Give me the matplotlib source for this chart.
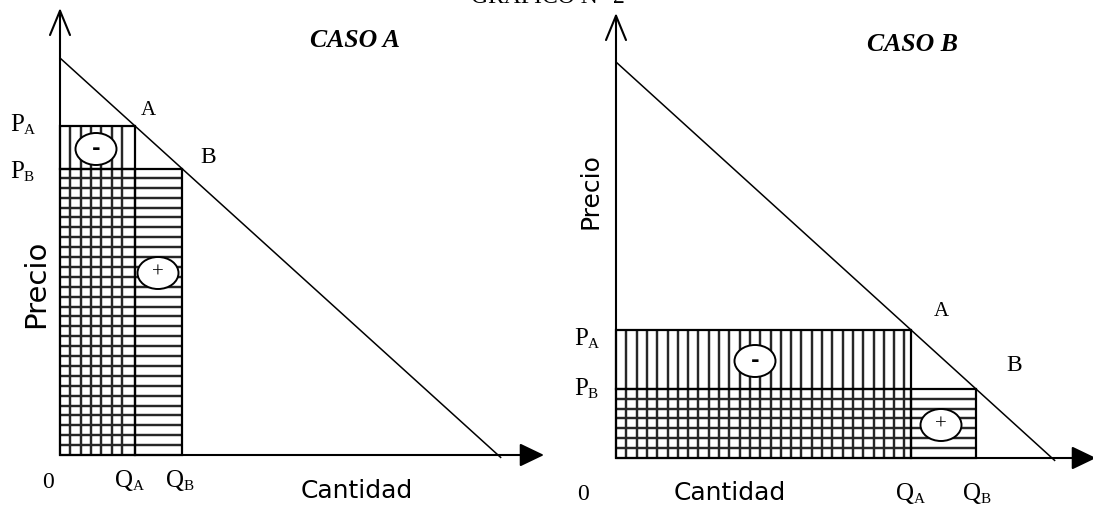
import numpy as np
import matplotlib
matplotlib.use("Agg")
import matplotlib.pyplot as plt
from matplotlib.patches import Rectangle, Ellipse

# ---------------- data ----------------
demand_intercept = 10.0          # P = a - Q
cases = ["CASO A", "CASO B"]
qa_values = [1.71, 6.77]         # quantity at point A
qb_values = [2.79, 8.26]         # quantity at point B
pa_values = [demand_intercept - q for q in qa_values]
pb_values = [demand_intercept - q for q in qb_values]
sign_neg = "-"
sign_pos = "+"

# ---------------- layout ----------------
W, H = 1093, 507
fig = plt.figure(figsize=(W / 100, H / 100), dpi=100)
fig.patch.set_facecolor("white")

SERIF = ["Liberation Serif", "DejaVu Serif"]
SANS = ["DejaVu Sans"]

# panel: (left px, right px, origin px x, origin px y, px per Q unit, px per P unit)
panels = [
    (0, 546, 60, 455, 43.8, 39.7),
    (546, 1093, 616, 458, 43.6, 39.6),
]


def make_ax(x0, x1, ox, oy, sx, sy):
    ax = fig.add_axes([x0 / W, 0, (x1 - x0) / W, 1])
    ax.set_xlim((x0 - ox) / sx, (x1 - ox) / sx)
    ax.set_ylim((oy - H) / sy, oy / sy)
    ax.axis("off")
    return ax


def px(ax, x, y):
    """pixel position (from top-left) -> data coords of ax"""
    inv = ax.transData.inverted()
    return inv.transform((x, H - y))


def hatch(ax, x0, x1, y0, y1, dx, dy, vertical, horizontal):
    kw = dict(color="#262626", lw=1.75, zorder=2, capstyle="butt")
    if vertical:
        xs = np.arange(dx, x1 - dx * 0.3, dx)
        xs = xs[xs > x0 + dx * 0.3]
        ax.vlines(xs, y0, y1, **kw)
    if horizontal:
        ys = np.arange(dy, y1 - dy * 0.3, dy)
        ys = ys[ys > y0 + dy * 0.3]
        ax.hlines(ys, x0, x1, **kw)


def sub_label(ax, x, y, main, sub, size=18, subsize=11):
    t = ax.text(x, y, main, fontsize=size, family=SERIF, ha="left", va="baseline", zorder=5)
    ax.annotate(sub, xy=(1, 0), xycoords=t, xytext=(0, -0.5), textcoords="offset points",
                fontsize=subsize, family=SERIF, ha="left", va="bottom", zorder=5)


# label pixel positions (left x / baseline y) for each panel
lbl = [
    dict(pa=(10, 131), pb=(10, 178), A=(141, 115), B=(200, 163), zero=(42, 488),
         qa=(115, 487), qb=(166, 487), cant=(357, 498), prec=(36, 284), prec_size=21,
         caso=(355, 47), neg=(96, 149), pos=(158, 273)),
    dict(pa=(574, 345), pb=(574, 395), A=(934, 316), B=(1006, 371), zero=(577, 500),
         qa=(896, 500), qb=(963, 500), cant=(730, 500), prec=(590, 191), prec_size=18,
         caso=(912, 51), neg=(755, 361), pos=(941, 425)),
]

for i, (x0, x1, ox, oy, sx, sy) in enumerate(panels):
    ax = make_ax(x0, x1, ox, oy, sx, sy)
    qa, qb, pa, pb = qa_values[i], qb_values[i], pa_values[i], pb_values[i]
    L = lbl[i]
    dx = 10.3 / sx
    dy = 9.9 / sy

    # axes with arrows
    y_top = oy / sy - (13 if i else 8) / sy
    ax.annotate("", xy=(0, y_top), xytext=(0, 0),
                arrowprops=dict(arrowstyle="->,head_length=1.75,head_width=0.72",
                                mutation_scale=10, lw=1.5, color="black",
                                shrinkA=0, shrinkB=0), zorder=4)
    x_tip = (544 - ox) / sx if i == 0 else (1096 - ox) / sx
    ax.annotate("", xy=(x_tip, 0), xytext=(0, 0),
                arrowprops=dict(arrowstyle="-|>,head_length=1.5,head_width=0.72",
                                mutation_scale=10, lw=1.5, color="black", fc="black",
                                shrinkA=0, shrinkB=0), zorder=4, annotation_clip=False)

    # demand curve
    q = np.array([0.0, demand_intercept + 0.06])
    ax.plot(q, demand_intercept - q, color="black", lw=1.1, zorder=3)

    # hatched areas
    hatch(ax, 0, qa, pb, pa, dx, dy, True, False)        # lost area (-)
    hatch(ax, 0, qa, 0, pb, dx, dy, True, True)          # common area
    hatch(ax, qa, qb, 0, pb, dx, dy, False, True)        # gained area (+)
    for (rx, ry, rw, rh) in [(0, pb, qa, pa - pb), (0, 0, qa, pb), (qa, 0, qb - qa, pb)]:
        ax.add_patch(Rectangle((rx, ry), rw, rh, fill=False, ec="black", lw=1.6, zorder=3))

    # ellipses with signs
    for key, s in (("neg", sign_neg), ("pos", sign_pos)):
        cx, cy = px(ax, *L[key])
        ax.add_patch(Ellipse((cx, cy), 41 / sx, 32 / sy, fc="white", ec="black", lw=1.4, zorder=6))
        if s == "-":
            ax.text(cx, cy, s, fontsize=15, family=SANS, weight="bold", ha="center", va="center", zorder=7)
        else:
            ax.text(cx, cy, s, fontsize=15, family=SERIF, ha="center", va="center", zorder=7)

    # labels
    sub_label(ax, *px(ax, *L["pa"]), "P", "A")
    sub_label(ax, *px(ax, *L["pb"]), "P", "B")
    sub_label(ax, *px(ax, *L["qa"]), "Q", "A")
    sub_label(ax, *px(ax, *L["qb"]), "Q", "B")
    ax.text(*px(ax, *L["A"]), "A", fontsize=15, family=SERIF, ha="left", va="baseline")
    ax.text(*px(ax, *L["B"]), "B", fontsize=17, family=SERIF, ha="left", va="baseline")
    ax.text(*px(ax, *L["zero"]), "0", fontsize=17, family=SERIF, ha="left", va="baseline")
    ax.text(*px(ax, *L["cant"]), "Cantidad", fontsize=18, family=SANS, ha="center", va="baseline")
    ax.text(*px(ax, *L["prec"]), "Precio", fontsize=L["prec_size"], family=SANS, rotation=90,
            ha="center", va="center")
    ax.text(*px(ax, *L["caso"]), cases[i], fontsize=18.5, family=SERIF, weight="bold",
            style="italic", ha="center", va="baseline")

fig.text(548 / W, 1 - 3 / H, "GRAFICO N° 2", fontsize=17, family=SERIF,
         ha="center", va="baseline")

fig.savefig("out.png", dpi=100, facecolor="white")
